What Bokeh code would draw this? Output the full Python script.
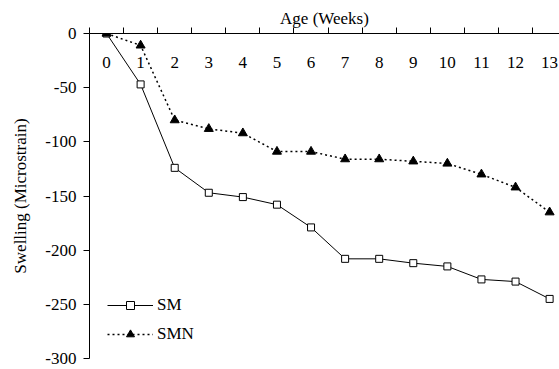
from bokeh.plotting import figure
from bokeh.models import FixedTicker, Range1d, ColumnDataSource, Legend
from bokeh.core.properties import value
from bokeh.embed import file_html
from bokeh.resources import INLINE

weeks = [0, 1, 2, 3, 4, 5, 6, 7, 8, 9, 10, 11, 12, 13]
week_labels = [str(w) for w in weeks]
sm = [0, -47, -124, -147, -151, -158, -179, -208, -208, -212, -215, -227, -229, -245]
smn = [0, -11, -80, -88, -92, -109, -109, -116, -116, -118, -120, -130, -142, -165]
y_ticks = [0, -50, -100, -150, -200, -250, -300]
y_tick_labels = ["0", "-50", "-100", "-150", "-200", "-250", "-300"]
label_y = -27

FONT = "Liberation Serif"
FS = "17px"

p = figure(width=559, height=369, output_backend="svg", toolbar_location=None,
           x_range=Range1d(-0.5, 13.29), y_range=Range1d(-300, 0),
           x_axis_location="above",
           min_border_left=89, min_border_top=33, min_border_bottom=11, min_border_right=0)
p.outline_line_color = None
p.xgrid.visible = False
p.ygrid.visible = False
p.background_fill_color = "white"

# top x axis: ticks at category boundaries, labels drawn inside
xa = p.xaxis[0]
xa.ticker = FixedTicker(ticks=[w - 0.5 for w in weeks])
xa.major_label_overrides = {w - 0.5: "" for w in weeks}
xa.major_label_text_font_size = "0px"
xa.major_label_standoff = 0
xa.major_tick_in = 0
xa.major_tick_out = 6
xa.minor_tick_line_color = None
xa.axis_label = "Age (Weeks)"
xa.axis_label_text_font = FONT
xa.axis_label_text_font_style = "normal"
xa.axis_label_text_font_size = FS
xa.axis_label_text_color = "black"
xa.axis_label_standoff = 0
xa.axis_line_color = "black"
xa.major_tick_line_color = "black"

ya = p.yaxis[0]
ya.ticker = FixedTicker(ticks=y_ticks)
ya.major_label_overrides = {t: s for t, s in zip(y_ticks, y_tick_labels)}
ya.major_tick_in = 0
ya.major_tick_out = 6
ya.minor_tick_line_color = None
ya.major_label_standoff = 7
ya.major_label_text_font = FONT
ya.major_label_text_font_size = FS
ya.major_label_text_color = "black"
ya.axis_label = "Swelling (Microstrain)"
ya.axis_label_text_font = FONT
ya.axis_label_text_font_style = "normal"
ya.axis_label_text_font_size = FS
ya.axis_label_text_color = "black"
ya.axis_label_standoff = 12
ya.axis_line_color = "black"
ya.major_tick_line_color = "black"

src = ColumnDataSource(dict(x=weeks, sm=sm, smn=smn, lab=week_labels,
                            ly=[label_y] * len(weeks)))

l1 = p.line("x", "sm", source=src, line_color="black", line_width=1)
m1 = p.scatter("x", "sm", source=src, marker="square", size=7,
               fill_color="white", line_color="black", line_width=1)
l2 = p.line("x", "smn", source=src, line_color="black", line_width=1.5, line_dash="2 3")
m2 = p.scatter("x", "smn", source=src, marker="triangle", size=9,
               fill_color="black", line_color="black")

p.text("x", "ly", text="lab", source=src, text_font=value(FONT), text_font_size=FS,
       text_align="center", text_baseline="middle", text_color="black")

legend = Legend(items=[("SM", [l1, m1]), ("SMN", [l2, m2])],
                location=(18, 14), padding=0, margin=0, spacing=9,
                glyph_width=46, glyph_height=20, label_height=20,
                label_standoff=4, label_text_font=FONT, label_text_font_size=FS,
                label_text_color="black",
                background_fill_alpha=0, border_line_color=None)
p.add_layout(legend)

open("out.html", "w").write(file_html(p, INLINE))
